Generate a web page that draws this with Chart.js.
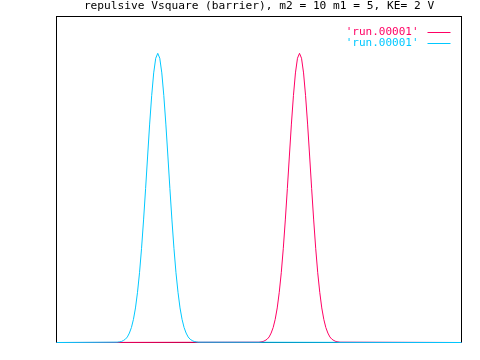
<!DOCTYPE html>
<html lang="en">
<head>
  <meta charset="UTF-8">
  <title>repulsive Vsquare (barrier)</title>
  <script src="https://cdn.jsdelivr.net/npm/chart.js"></script>
  <style>
    body { margin: 0; background: #fff; }
    canvas { display: block; }
  </style>
</head>
<body>
  <canvas id="grafico" width="480" height="360"></canvas>

  <script>
    const titulo = "repulsive Vsquare (barrier), m2 = 10 m1 = 5, KE= 2 V";
    const nomes = ["'run.00001'", "'run.00001'"];

    // pico magenta (centro ~60)
    const magentaX = [0, 50, 50.5, 51, 51.5, 52, 52.5, 53, 53.5, 54, 54.5, 55, 55.5, 56, 56.5, 57, 57.5, 58, 58.5, 59, 59.5,
      60, 60.5, 61, 61.5, 62, 62.5, 63, 63.5, 64, 64.5, 65, 65.5, 66, 66.5, 67, 67.5, 68, 68.5, 69, 69.5, 70, 100];
    const magentaY = [0, 0.001, 0.002, 0.003, 0.006, 0.010, 0.017, 0.029, 0.046, 0.071, 0.106, 0.154, 0.214, 0.289, 0.376, 0.472, 0.572, 0.670, 0.757, 0.827, 0.872,
      0.887, 0.872, 0.827, 0.757, 0.670, 0.572, 0.472, 0.376, 0.289, 0.214, 0.154, 0.106, 0.071, 0.046, 0.029, 0.017, 0.010, 0.006, 0.003, 0.002, 0.001, 0];

    // pico ciano (centro ~25)
    const cianoX = [0, 15, 15.5, 16, 16.5, 17, 17.5, 18, 18.5, 19, 19.5, 20, 20.5, 21, 21.5, 22, 22.5, 23, 23.5, 24, 24.5,
      25, 25.5, 26, 26.5, 27, 27.5, 28, 28.5, 29, 29.5, 30, 30.5, 31, 31.5, 32, 32.5, 33, 33.5, 34, 34.5, 35, 100];
    const cianoY = [0, 0.001, 0.002, 0.003, 0.006, 0.010, 0.017, 0.029, 0.046, 0.071, 0.106, 0.154, 0.214, 0.289, 0.376, 0.472, 0.572, 0.670, 0.757, 0.827, 0.872,
      0.887, 0.872, 0.827, 0.757, 0.670, 0.572, 0.472, 0.376, 0.289, 0.214, 0.154, 0.106, 0.071, 0.046, 0.029, 0.017, 0.010, 0.006, 0.003, 0.002, 0.001, 0];

    const cores = ['rgb(255, 0, 100)', 'rgb(0, 200, 255)'];
    const fonte = '11px "DejaVu Sans Mono", monospace';
    const fonteTitulo = '11.2px "DejaVu Sans Mono", monospace';

    const toPoints = (xs, ys) => xs.map((x, i) => ({ x: x, y: ys[i] }));

    // moldura (por baixo das curvas), titulo e legenda no estilo gnuplot
    const estiloGnuplot = {
      id: 'estiloGnuplot',
      beforeDatasetsDraw(chart) {
        const ctx = chart.ctx;
        const a = chart.chartArea;
        ctx.save();
        ctx.strokeStyle = '#000';
        ctx.lineWidth = 1;
        ctx.strokeRect(a.left, a.top, a.right - a.left, a.bottom - a.top);
        ctx.restore();
      },
      afterDatasetsDraw(chart) {
        const ctx = chart.ctx;
        const a = chart.chartArea;
        ctx.save();
        ctx.font = fonteTitulo;
        ctx.fillStyle = '#000';
        ctx.textAlign = 'center';
        ctx.textBaseline = 'middle';
        ctx.fillText(titulo, (a.left + a.right) / 2, 6.5);

        ctx.font = fonte;
        ctx.lineWidth = 1;
        chart.data.datasets.forEach((ds, i) => {
          const y = a.top + 15.5 + i * 11;
          ctx.fillStyle = ds.borderColor;
          ctx.textAlign = 'right';
          ctx.fillText(ds.label, a.right - 43, y);
          ctx.strokeStyle = ds.borderColor;
          ctx.beginPath();
          ctx.moveTo(a.right - 34, Math.floor(y) + 0.5);
          ctx.lineTo(a.right - 11, Math.floor(y) + 0.5);
          ctx.stroke();
        });
        ctx.restore();
      }
    };

    const grafico = new Chart(document.getElementById('grafico').getContext('2d'), {
      type: 'line',
      data: {
        datasets: [
          {
            label: nomes[0],
            data: toPoints(magentaX, magentaY),
            borderColor: cores[0],
            borderWidth: 1,
            pointRadius: 0,
            fill: false,
            clip: false,
            order: 1
          },
          {
            label: nomes[1],
            data: toPoints(cianoX, cianoY),
            borderColor: cores[1],
            borderWidth: 1,
            pointRadius: 0,
            fill: false,
            clip: false,
            order: 0
          }
        ]
      },
      options: {
        responsive: false,
        animation: false,
        layout: { padding: { left: 56.5, right: 18.5, top: 16.5, bottom: 17.5 } },
        scales: {
          x: { type: 'linear', min: 0, max: 100, display: false },
          y: { min: 0, max: 1, display: false }
        },
        plugins: {
          legend: { display: false },
          tooltip: { enabled: false },
          title: { display: false }
        }
      },
      plugins: [estiloGnuplot]
    });
  </script>
</body>
</html>
